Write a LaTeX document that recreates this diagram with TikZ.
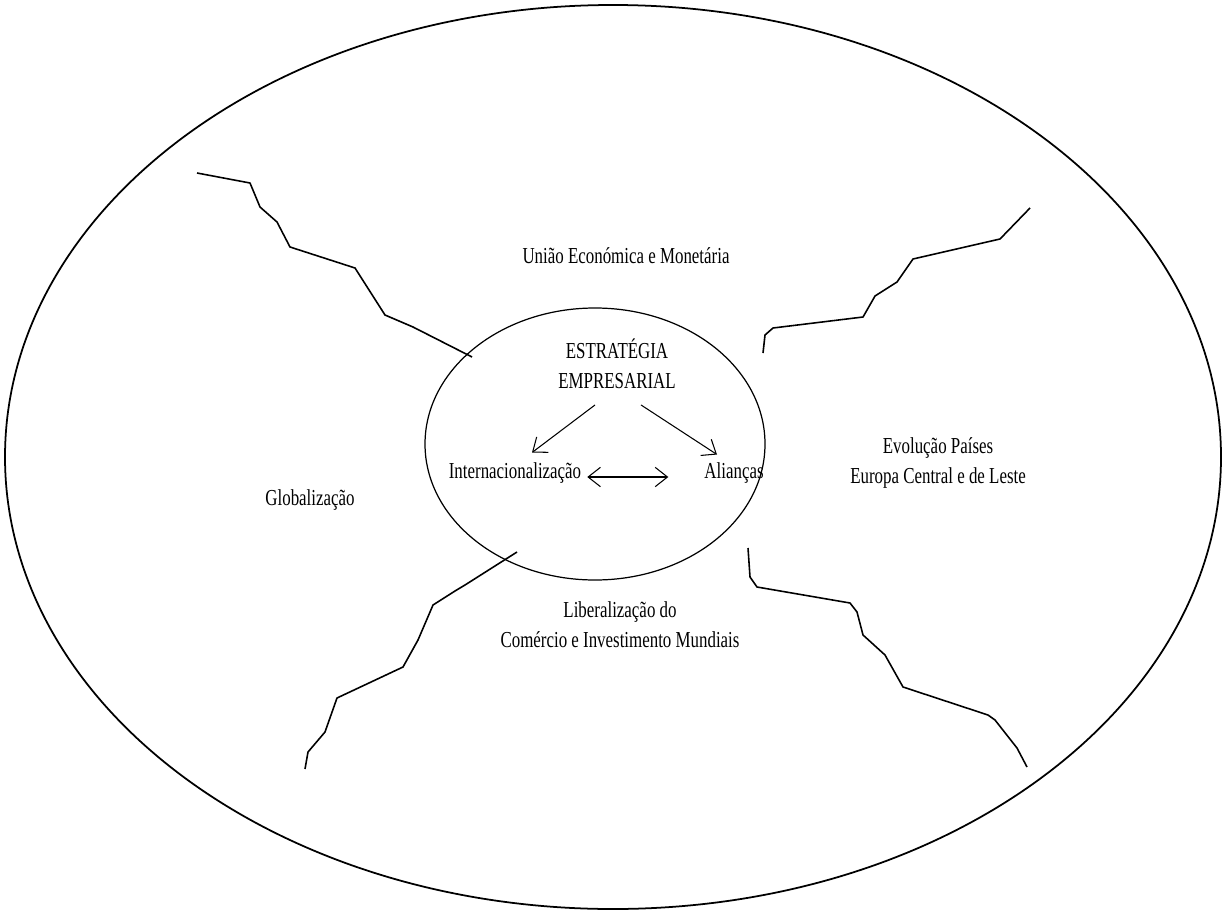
\documentclass[tikz,border=0pt]{standalone}
\usepackage{fontspec}
\setmainfont{Liberation Serif}[FakeStretch=0.74]
\usetikzlibrary{arrows.meta,positioning,shapes,calc}

\tikzset{
  rotulo/.style={font=\fontsize{13}{17}\selectfont, align=center, inner sep=1pt},
  fenda/.style={line width=0.9pt, line join=round},
  seta/.style={line width=0.6pt, -{Straight Barb[length=7pt,width=11pt]}},
  setadupla/.style={line width=0.6pt, {Straight Barb[length=7pt,width=11pt]}-{Straight Barb[length=7pt,width=11pt]}}
}

\begin{document}
\begin{tikzpicture}[x=0.02cm, y=-0.02cm]
            \useasboundingbox (0,0) rectangle (1222,912);
            
            % Envolvente
            \draw[line width=1pt] (613,457) ellipse [x radius=608, y radius=452];
            
            % Nucleo
            \draw[line width=0.7pt] (595,444) ellipse [x radius=170, y radius=136];
            
            % Fendas
            \draw[fenda] (197,173) -- (250,183) -- (260,207) -- (277,222) -- (290,247)
                -- (355,268) -- (385,315) -- (413,327) -- (472,357);
            \draw[fenda] (1030,208) -- (1000,239) -- (913,259) -- (897,282) -- (875,296)
                -- (863,317) -- (773,328) -- (765,335) -- (763,353);
            \draw[fenda] (517,552) -- (465,585) -- (455,591) -- (433,605) -- (418,640)
                -- (403,667) -- (337,698) -- (325,732) -- (308,752) -- (305,769);
            \draw[fenda] (748,548) -- (750,577) -- (757,587) -- (850,603) -- (857,612)
                -- (863,635) -- (885,655) -- (903,687) -- (988,715) -- (995,720)
                -- (1017,748) -- (1027,767);
            
            % Envolvente - factores
            \node[rotulo] (uem) at (626,256) {União Económica e Monetária};
            \node[rotulo] (glob) at (310,500) {Globalização};
            \node[rotulo] (leste) at (938,463) {Evolução Países\\Europa Central e de Leste};
            \node[rotulo] (lib) at (620,625) {Liberalização do\\Comércio e Investimento Mundiais};
            
            % Estrategia
            \node[rotulo] (est) at (617,364) {ESTRATÉGIA\\EMPRESARIAL};
            \node[rotulo] (inter) at (515,473) {Internacionalização};
            \node[rotulo] (alian) at (734,473) {Alianças};
            
            \draw[seta] ([shift={(-22,14)}]est.south) -- ([shift={(17,-8)}]inter.north);
            \draw[seta] ([shift={(24,14)}]est.south) -- ([shift={(-17,-6)}]alian.north);
            \draw[setadupla] ([shift={(4,4)}]inter.east) -- ([shift={(-34,4)}]alian.west);
        \end{tikzpicture}
\end{document}
